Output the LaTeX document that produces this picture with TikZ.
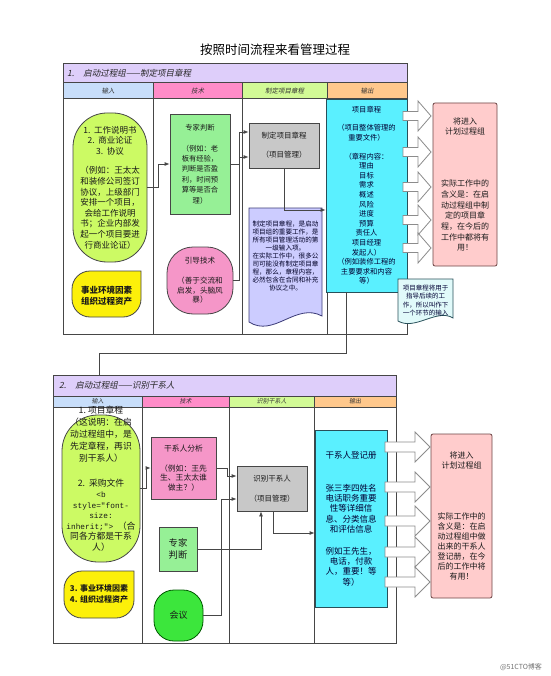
\documentclass[tikz,border=0pt]{standalone}
\usepackage{fontspec}
\setmainfont{Noto Sans CJK SC}
\newfontfamily\cjkit[FakeSlant=0.2]{Noto Sans CJK SC}
\newfontfamily\monof{Liberation Mono}
\usetikzlibrary{arrows.meta}
\newcommand\fsz[2]{\fontsize{#1pt}{#2pt}\selectfont}
\definecolor{hdr}{RGB}{222,206,250}
\definecolor{cin}{RGB}{200,222,250}
\definecolor{ctech}{RGB}{255,140,200}
\definecolor{cproc}{RGB}{210,250,150}
\definecolor{cout}{RGB}{255,200,140}
\definecolor{ygreen}{RGB}{204,250,100}
\definecolor{yel}{RGB}{252,240,10}
\definecolor{lgreen}{RGB}{150,240,150}
\definecolor{pinkel}{RGB}{245,150,200}
\definecolor{grayb}{RGB}{200,200,200}
\definecolor{lav}{RGB}{204,204,255}
\definecolor{lavbd}{RGB}{60,60,120}
\definecolor{cyanb}{RGB}{90,240,255}
\definecolor{cyanbd}{RGB}{40,80,90}
\definecolor{lcyan}{RGB}{225,250,250}
\definecolor{pinkbox}{RGB}{255,204,204}
\definecolor{pinkbd}{RGB}{110,70,70}
\definecolor{hygreen}{RGB}{60,230,60}
\definecolor{ln}{RGB}{70,70,70}
\newcommand\blockarr[6]{\draw[barr] (#1,#4-#5) -- (#2,#4-#5) -- (#2,#4-#6) -- (#3,#4) -- (#2,#4+#6) -- (#2,#4+#5) -- (#1,#4+#5) -- cycle;}
\newcommand\yshape[5]{\draw[shp, fill=yel] (#3,#2) -- (#3,#4-#5) .. controls (#3,#4-0.45*#5) and (#3-0.45*#5,#4) .. (#3-#5,#4) -- (#1+#5,#4) .. controls (#1+0.45*#5,#4) and (#1,#4-0.45*#5) .. (#1,#4-#5) -- (#1,#2+#5) .. controls (#1,#2+0.45*#5) and (#1+0.45*#5,#2) .. (#1+#5,#2) -- cycle;}
\tikzset{
 frame/.style={draw=ln, line width=1pt},
 conn/.style={draw=ln, line width=0.8pt},
 arr/.style={conn, -{Latex[length=5pt,width=4pt]}},
 barr/.style={draw=black!45, fill=white, line width=0.8pt},
 txt/.style={align=center, inner sep=0pt, text=black!90},
 shp/.style={draw=ln, line width=0.8pt, inner sep=0pt, align=center, text=black!90},
 colh/.style={inner sep=0pt, font=\cjkit\fsz{6.5}{8}, text=black!80},
 sech/.style={inner sep=0pt, anchor=west, font=\cjkit\fsz{8.5}{10}, text=black!85},
}
\begin{document}
\begin{tikzpicture}[x=1pt,y=-1pt]
\useasboundingbox (0,0) rectangle (550,676);
\fill[white] (0,0) rectangle (550,676);

\node[font=\fsz{12.5}{14}] (title) at (275,50) {按照时间流程来看管理过程};

% ---------- section 1 frame ----------
\draw[frame, fill=hdr] (63,64) rectangle (407,83);
\draw[frame, fill=cin] (63,83) rectangle (153,99);
\draw[frame, fill=ctech] (153,83) rectangle (242,99);
\draw[frame, fill=cproc] (242,83) rectangle (327,99);
\draw[frame, fill=cout] (327,83) rectangle (407,99);
\draw[frame] (63,99) rectangle (407,334);
\draw[frame] (153,99) -- (153,334) (242,99) -- (242,334) (327,99) -- (327,334);
\node[sech] (h1) at (67,73.5) {1.\hspace{9pt}启动过程组——制定项目章程};
\node[colh] (h1a) at (108,91) {输入};
\node[colh] (h1b) at (197.5,91) {技术};
\node[colh] (h1c) at (284.5,91) {制定项目章程};
\node[colh] (h1d) at (367,91) {输出};

% ---------- section 2 frame ----------
\draw[frame, fill=hdr] (53,375) rectangle (396,396);
\draw[frame, fill=cin] (53,396) rectangle (142,407);
\draw[frame, fill=ctech] (142,396) rectangle (229,407);
\draw[frame, fill=cproc] (229,396) rectangle (314,407);
\draw[frame, fill=cout] (314,396) rectangle (396,407);
\draw[frame] (53,407) rectangle (396,643);
\draw[frame] (142,407) -- (142,643) (229,407) -- (229,643) (314,407) -- (314,643);
\node[sech] (h2) at (59,385.5) {2.\hspace{9pt}启动过程组——识别干系人};
\node[colh, font=\cjkit\fsz{6}{7}] (h2a) at (97.5,401.5) {输入};
\node[colh, font=\cjkit\fsz{6}{7}] (h2b) at (185.5,401.5) {技术};
\node[colh, font=\cjkit\fsz{6}{7}] (h2c) at (271.5,401.5) {识别干系人};
\node[colh, font=\cjkit\fsz{6}{7}] (h2d) at (355,401.5) {输出};

% ---------- section 1 content ----------
\node[shp, fill=ygreen, rounded corners=34pt, minimum width=74pt, minimum height=149pt, font=\fsz{8.5}{10.6}] (e1) at (110,187.5)
 {1.\ \ 工作说明书\\2.\ \ 商业论证\\3.\ \ 协议\\[9pt]（例如：王太太\\和装修公司签订\\协议，上级部门\\安排一个项目，\\会给工作说明\\书；企业内部发\\起一个项目要进\\行商业论证）};
\yshape{72}{271}{141}{317}{18}
\node[txt, font=\bfseries\fsz{8.5}{11}] (y1) at (106.5,295.5) {事业环境因素\\组织过程资产};

\node[shp, fill=lgreen, minimum width=60pt, minimum height=100pt, font=\fsz{7.3}{10.4}] (zj) at (200,164)
 {专家判断\\[10.4pt]（例如：老\\板有经验，\\判断是否盈\\利，时间预\\算等是否合\\理）};
\node[shp, fill=pinkel, rounded corners=26pt, minimum width=66pt, minimum height=67pt, font=\fsz{7.6}{9.7}] (yd) at (200,280.5)
 {引导技术\\[10pt]（善于交流和\\启发，头脑风\\暴）};
\node[shp, fill=grayb, minimum width=70pt, minimum height=45pt, font=\fsz{7.5}{10}] (g1) at (284,145.5)
 {制定项目章程\\[9pt]（项目管理）};

\draw[shp, draw=lavbd, fill=lav] (249,208) -- (322,208) -- (322,316) .. controls (296,302) and (274,338) .. (249,322) -- cycle;
\node[txt, font=\fsz{6.6}{8}, text=black!85!blue] (d1) at (285.5,256)
 {制定项目章程，是启动\\项目组的重要工作，是\\所有项目管理活动的第\\一级输入项。\\在实际工作中，很多公\\司可能没有制定项目章\\程，那么，章程内容，\\必然包含在合同和补充\\协议之中。};

\node[shp, draw=cyanbd, fill=cyanb, minimum width=81pt, minimum height=193pt, font=\fsz{7.3}{9.6}, text=black!80!blue] (c1) at (366.5,195.5)
 {项目章程\\[8.4pt]（项目整体管理的\\重要文件）\\[9.4pt]（章程内容：\\理由\\目标\\需求\\概述\\风险\\进度\\预算\\责任人\\项目经理\\发起人）\\（例如装修工程的\\主要要求和内容\\等）};

\blockarr{403}{418}{431}{116}{4.5}{15}
\blockarr{403}{418}{431}{152}{4.5}{15}
\blockarr{403}{418}{431}{187}{4.5}{15}
\blockarr{403}{418}{431}{220}{4.5}{15}
\blockarr{403}{418}{431}{248}{4.5}{15}

\node[shp, draw=pinkbd, fill=pinkbox, rounded corners=2pt, minimum width=64pt, minimum height=163pt, font=\fsz{8}{10.7}] (pk1) at (465,184.5)
 {将进入\\计划过程组\\[41pt]实际工作中的\\含义是：在启\\动过程组中制\\定的项目章\\程，在今后的\\工作中都将有\\用！};

\draw[shp, draw=cyanbd, fill=lcyan] (398,279) -- (453,279) -- (453,318) .. controls (437,308) and (415,331) .. (398,321) -- cycle;
\node[txt, font=\fsz{6.5}{8.3}, text=black!80!blue] (n1) at (425.5,300.5)
 {项目章程将用于\\指导后续的工\\作，所以叫作下\\一个环节的输入};

\draw[arr] (e1.east) -- ++(11,0) |- (zj.west);
\draw[arr] (zj.east) -- ++(9,0) |- ([yshift=13.5pt]g1.west);
\draw[arr] (yd.east) -- ++(6,0) |- ([yshift=-11.5pt]g1.west);
\draw[arr] (g1.south) |- ([yshift=-14.5pt]c1.west);

\coordinate (s2top) at (99,375);
\draw[conn] ([xshift=-20.5pt]c1.south) -- ++(0,61) -| (s2top);

% ---------- section 2 content ----------
\node[shp, fill=ygreen, rounded corners=36pt, minimum width=78pt, minimum height=147pt] (e2) at (101,488.5) {};
\node[txt, font=\fsz{8.8}{10.6}] (e2t) at (101,478.5)
 {1.\ 项目章程\\[1.6pt]（这说明：在启\\[1.6pt]动过程组中，是\\[1.6pt]先定章程，再识\\[1.6pt]别干系人）\\[14.4pt]2.\ \ 采购文件\\{\monof\fsz{7.8}{10.6}<b}\\{\monof\fsz{7.8}{10.6}style="font-}\\{\monof\fsz{7.8}{10.6}size:}\\{\monof\fsz{7.8}{10.6}inherit;">\ }（合\\同各方都是干系\\人）};
\yshape{64}{571}{134}{618}{18}
\node[txt, font=\bfseries\fsz{8}{10.5}] (y2) at (99,594) {3. 事业环境因素\\4. 组织过程资产};

\node[shp, fill=pinkel, minimum width=65pt, minimum height=62pt, font=\fsz{7.8}{9.7}] (p2) at (183.5,468)
 {干系人分析\\[10.3pt]（例如：王先\\生、王太太谁\\做主？）};
\node[shp, fill=lgreen, minimum width=38pt, minimum height=44pt, font=\fsz{9.3}{12.5}] (zj2) at (178,549) {专家\\判断};
\node[shp, draw=green!35!black, fill=hygreen, rounded corners=20pt, minimum width=49pt, minimum height=51pt, font=\fsz{9}{11}] (hy) at (178.5,615.5) {会议};
\node[shp, fill=grayb, minimum width=70pt, minimum height=45pt, font=\fsz{7.5}{10}] (g2) at (272,488.5)
 {识别干系人\\[10pt]（项目管理）};

\node[shp, draw=cyanbd, fill=cyanb, minimum width=72pt, minimum height=177pt, font=\fsz{8.5}{10.3}, text=black!80!blue] (c2) at (351,518.5)
 {干系人登记册\\[22.7pt]张三李四姓名\\电话职务重要\\性等详细信\\息、分类信息\\和评估信息\\[11.7pt]例如王先生，\\电话，付款\\人，重要！等\\等）};

\blockarr{385}{415}{430}{447}{5}{15}
\blockarr{385}{415}{430}{487}{5}{15}
\blockarr{385}{415}{430}{521}{5}{15}
\blockarr{385}{415}{430}{552}{5}{15}
\blockarr{385}{415}{430}{582}{5}{15}

\node[shp, draw=pinkbd, fill=pinkbox, rounded corners=2pt, minimum width=61pt, minimum height=164pt, font=\fsz{8}{10}] (pk2) at (461.5,516)
 {将进入\\计划过程组\\[41pt]实际工作中的\\含义是：在启\\动过程组中做\\出来的干系人\\登记册，在今\\后的工作中将\\有用！};

\draw[arr] (e2.east) -- ++(6,0) |- (p2.west);
\draw[arr] (p2.east) -- ++(11,0) |- ([yshift=12.5pt]g2.west);
\draw[arr] (hy.east) -- ++(18,0) |- ([yshift=-10.5pt]g2.west);
\draw[arr] (zj2.east) -| ([xshift=-11pt]g2.south);
\draw[arr] ([xshift=1pt]g2.south) |- ([yshift=-14.5pt]c2.west);

\node[font=\fsz{7}{8}, text=black!55] (wm) at (521,667) {@51CTO博客};
\end{tikzpicture}
\end{document}
